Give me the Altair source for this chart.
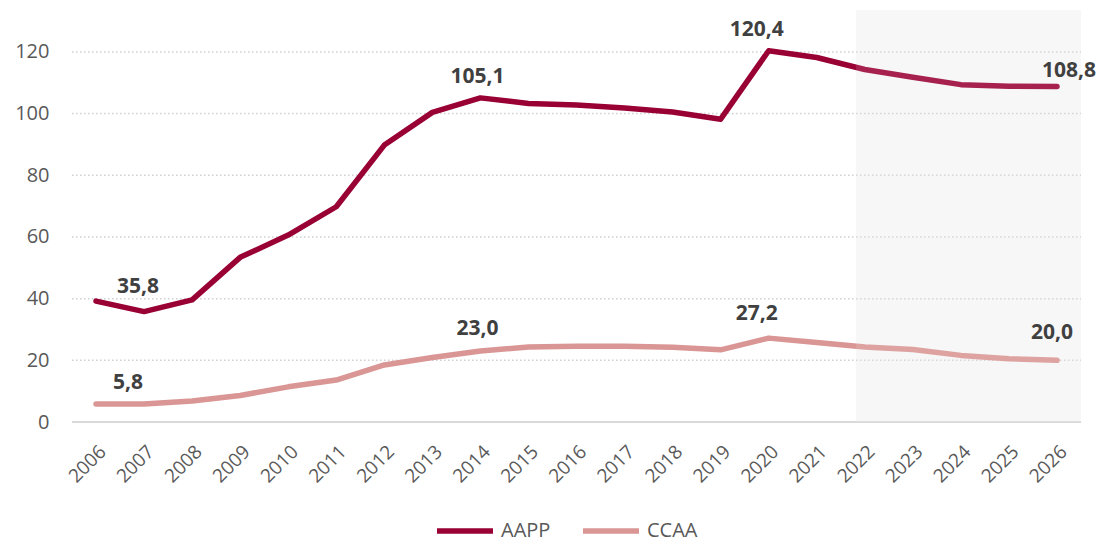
import altair as alt
import pandas as pd

years = list(range(2006, 2027))
aapp = [39.2, 35.8, 39.6, 53.4, 60.6, 69.8, 89.8, 100.4, 105.1, 103.3, 102.8,
        101.8, 100.5, 98.2, 120.4, 118.2, 114.3, 111.8, 109.4, 108.9, 108.8]
ccaa = [5.8, 5.8, 6.8, 8.6, 11.4, 13.6, 18.5, 20.9, 23.0, 24.3, 24.6,
        24.6, 24.2, 23.4, 27.2, 25.8, 24.3, 23.5, 21.6, 20.5, 20.0]
series_names = ["AAPP", "CCAA"]
series_colors = ["#990033", "#D99694"]
y_ticks = [0, 20, 40, 60, 80, 100, 120]
grid_values = [20, 40, 60, 80, 100, 120]
y_max = 133.6
x_min, x_max = 2005.5, 2026.5
shade_from, shade_to = 2021.82, 2026.5

# labelled points: (series, year, dx, dy)
label_specs = [
    ("AAPP", 2007, -6, -25),
    ("AAPP", 2014, -3, -21),
    ("AAPP", 2020, -12, -21),
    ("AAPP", 2026, 12, -15),
    ("CCAA", 2007, -16, -21),
    ("CCAA", 2014, -3, -22),
    ("CCAA", 2020, -12, -24),
    ("CCAA", 2026, -5, -27),
]

FONT = "Open Sans"

df = pd.DataFrame({
    "year": years * 2,
    "value": aapp + ccaa,
    "series": ["AAPP"] * len(years) + ["CCAA"] * len(years),
})

xs = alt.Scale(domain=[x_min, x_max], nice=False, zero=False)
ys = alt.Scale(domain=[0, y_max], nice=False, zero=True)

x_axis = alt.Axis(
    values=years, format="d", labelAngle=-45, labelFontSize=19, labelFont=FONT,
    labelColor="#595959", labelPadding=20, ticks=False, domain=False, grid=False,
    title=None, labelOverlap=False)
y_axis = alt.Axis(
    values=y_ticks, labelFontSize=20, labelFont=FONT, labelColor="#595959",
    labelPadding=23, ticks=False, domain=False, grid=False, title=None)


def X(field):
    return alt.X(field, scale=xs, axis=x_axis)


def Y(field):
    return alt.Y(field, scale=ys, axis=y_axis)


shade_df = pd.DataFrame({"x": [shade_from], "x2": [shade_to], "y": [0], "y2": [y_max]})

shade = alt.Chart(shade_df).mark_rect(fill="#F6F6F6").encode(
    x=X("x:Q"), x2="x2:Q", y=Y("y:Q"), y2="y2:Q",
)

overlay = alt.Chart(shade_df).mark_rect(fill="white", opacity=0.13).encode(
    x=X("x:Q"), x2="x2:Q", y=Y("y:Q"), y2="y2:Q",
)

grid = alt.Chart(pd.DataFrame({"v": grid_values})).mark_rule(
    color="#D0D0D0", strokeWidth=1.5, strokeDash=[1.5, 2.5]
).encode(
    y=Y("v:Q"),
    x=alt.value(0),
    x2=alt.value(1009),
)

zero = alt.Chart(pd.DataFrame({"v": [0]})).mark_rule(
    color="#D9D9D9", strokeWidth=2
).encode(
    y=Y("v:Q"),
    x=alt.value(0),
    x2=alt.value(1009),
)

lines = alt.Chart(df).mark_line(strokeWidth=5.5, strokeCap="round", strokeJoin="round").encode(
    x=X("year:Q"),
    y=Y("value:Q"),
    color=alt.Color("series:N", scale=alt.Scale(domain=series_names, range=series_colors),
                    legend=alt.Legend(
                        title=None, orient="none", direction="horizontal",
                        legendX=362, legendY=490, symbolType="stroke",
                        symbolSize=3136, symbolStrokeWidth=5.5, labelFontSize=20,
                        labelFont=FONT, labelColor="#595959", labelOffset=5,
                        columnPadding=21, padding=0)),
)

label_layers = []
for s, yr, dx, dy in label_specs:
    vals = aapp if s == "AAPP" else ccaa
    v = vals[years.index(yr)]
    ldf = pd.DataFrame({"year": [yr], "value": [v], "txt": [f"{v:.1f}".replace(".", ",")]})
    label_layers.append(
        alt.Chart(ldf).mark_text(
            font=FONT, fontSize=21, fontWeight="bold", color="#404040",
            dx=dx, dy=dy, align="center", baseline="middle"
        ).encode(
            x=X("year:Q"),
            y=Y("value:Q"),
            text="txt:N",
        )
    )

chart = alt.layer(shade, grid, zero, lines, overlay, *label_layers).properties(
    width=1009, height=412,
    autosize=alt.AutoSizeParams(type="none"),
    padding={"left": 64, "top": 2, "right": 15, "bottom": 118},
).configure_view(stroke=None)

chart.save("out.html", embed_options={"renderer": "svg", "actions": False})
